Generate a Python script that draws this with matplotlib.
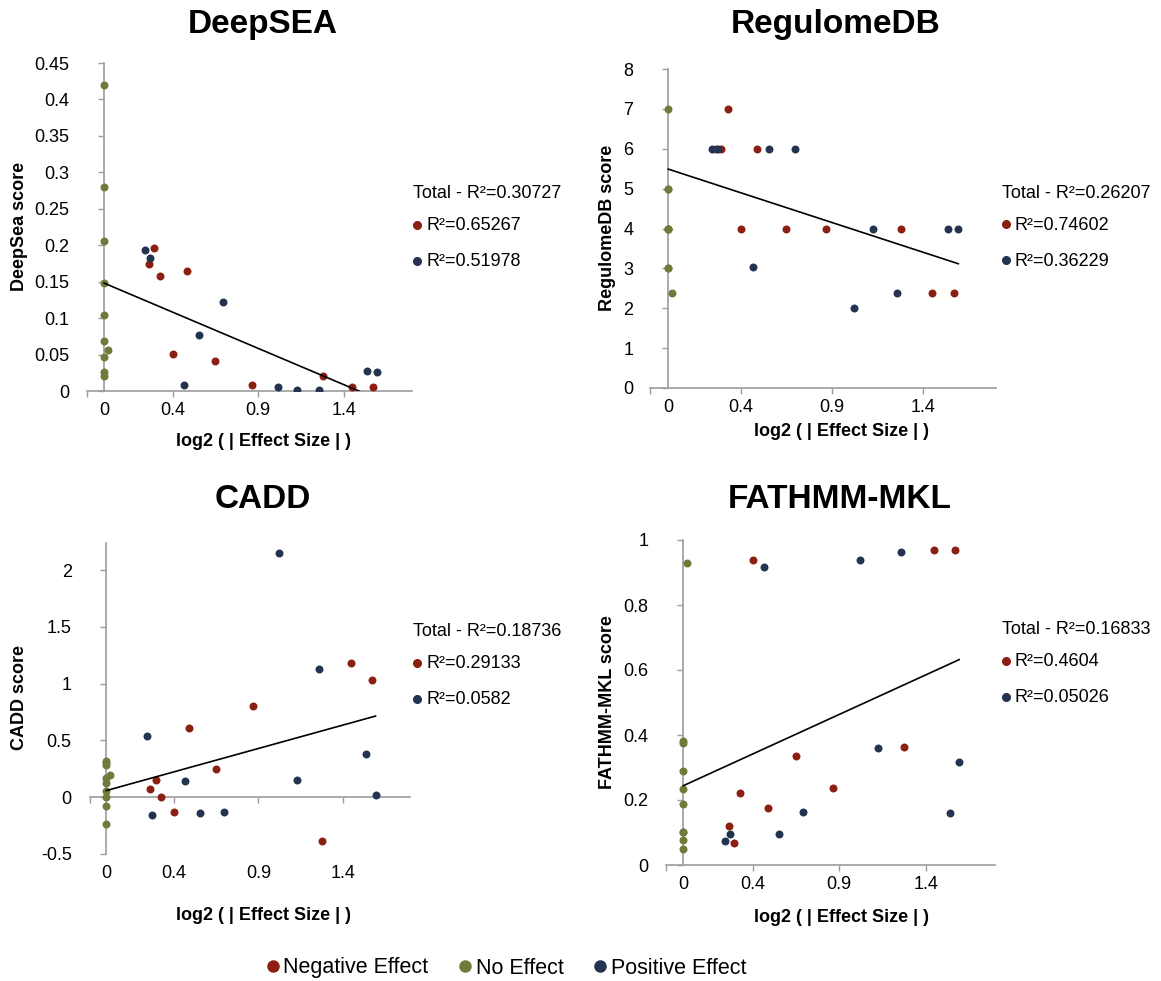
import numpy as np
import matplotlib
matplotlib.use("Agg")
import matplotlib.pyplot as plt
from matplotlib.lines import Line2D
from matplotlib.ticker import FuncFormatter

plt.rcParams['font.family'] = ['Liberation Sans', 'DejaVu Sans']

# colours of the three groups
c_neg = '#8b2012'
c_none = '#6d7c3b'
c_pos = '#243350'
grey = '#9c9c9c'

# log2(|effect size|) of each variant, same for all four scores
x_neg = [0.261, 0.292, 0.326, 0.40, 0.487, 0.649, 0.867, 1.277, 1.45, 1.571]
x_none = [0, 0, 0, 0, 0, 0, 0, 0, 0, 0.02]
x_pos = [0.238, 0.271, 0.466, 0.554, 0.694, 1.019, 1.127, 1.257, 1.538, 1.593]

# DeepSEA
deepsea_neg = [0.174, 0.196, 0.158, 0.051, 0.165, 0.041, 0.008, 0.021, 0.005, 0.005]
deepsea_none = [0.42, 0.28, 0.206, 0.148, 0.104, 0.068, 0.046, 0.026, 0.021, 0.056]
deepsea_pos = [0.194, 0.183, 0.008, 0.077, 0.122, 0.005, 0.002, 0.002, 0.028, 0.026]

# RegulomeDB
regulome_neg = [6, 6, 7, 4, 6, 4, 4, 4, 2.37, 2.37]
regulome_none = [7, 5, 4, 4, 3, 4, 5, 3, 4, 2.37]
regulome_pos = [6, 6, 3.03, 6, 6, 2.0, 4, 2.37, 4, 4]

# CADD
cadd_neg = [0.07, 0.152, 0.006, -0.126, 0.607, 0.25, 0.80, -0.387, 1.18, 1.03]
cadd_none = [0.32, 0.30, 0.284, 0.173, 0.123, 0.056, 0.006, -0.076, -0.24, 0.20]
cadd_pos = [0.54, -0.16, 0.14, -0.14, -0.126, 2.155, 0.152, 1.13, 0.378, 0.02]

# FATHMM-MKL
fathmm_neg = [0.119, 0.068, 0.222, 0.94, 0.176, 0.335, 0.238, 0.364, 0.968, 0.968]
fathmm_none = [0.382, 0.374, 0.29, 0.233, 0.187, 0.102, 0.078, 0.049, 0.102, 0.93]
fathmm_pos = [0.073, 0.095, 0.918, 0.096, 0.164, 0.94, 0.359, 0.963, 0.159, 0.318]

titles = ['DeepSEA', 'RegulomeDB', 'CADD', 'FATHMM-MKL']
ylabels = ['DeepSea score', 'RegulomeDB score', 'CADD score', 'FATHMM-MKL score']

# total linear trend lines
trend_intercept = [0.148, 5.49, 0.059, 0.244]
trend_slope = [-0.0994, -1.49, 0.412, 0.2435]

r2_total = ['0.30727', '0.26207', '0.18736', '0.16833']
r2_neg = ['0.65267', '0.74602', '0.29133', '0.4604']
r2_pos = ['0.51978', '0.36229', '0.0582', '0.05026']

yticks = [[0, 0.05, 0.1, 0.15, 0.2, 0.25, 0.3, 0.35, 0.4, 0.45],
          [0, 1, 2, 3, 4, 5, 6, 7, 8],
          [-0.5, 0, 0.5, 1, 1.5, 2],
          [0, 0.2, 0.4, 0.6, 0.8, 1]]
ylims = [(0, 0.45), (0, 8), (-0.5, 2.24), (0, 1)]
xtick_marks = [-0.1, 0.4, 0.9, 1.4]
xtick_labels = [0, 0.4, 0.9, 1.4]

data = [(deepsea_neg, deepsea_none, deepsea_pos),
        (regulome_neg, regulome_none, regulome_pos),
        (cadd_neg, cadd_none, cadd_pos),
        (fathmm_neg, fathmm_none, fathmm_pos)]

W, H = 1161, 981
fig = plt.figure(figsize=(W / 100, H / 100), dpi=100)

# axes boxes in pixels: left, top, width, height
boxes = [(87, 63, 325, 328), (650, 69, 346, 319), (89.5, 543, 321, 311), (666, 540, 329, 325)]
title_pos = [(263, 24), (836, 24), (263, 499), (840, 499)]
ylab_pos = [(20, 226), (607, 228), (20, 698), (607, 702)]
xlab_pos = [(263, 442), (842, 431), (263, 915), (842, 917)]
r2_pos_px = [(413, 194), (1002, 193), (413, 632), (1002, 630)]


def fx(px):
    return px / W


def fy(py):
    return 1 - py / H


for i in range(4):
    l, t, w, h = boxes[i]
    ax = fig.add_axes([fx(l), fy(t + h), w / W, h / H])
    neg, none, pos = data[i]
    ax.scatter(x_neg, neg, s=33, color=c_neg, zorder=3, linewidths=0)
    ax.scatter(x_none, none, s=33, color=c_none, zorder=3, linewidths=0)
    ax.scatter(x_pos, pos, s=33, color=c_pos, zorder=3, linewidths=0)

    allx = np.array(x_neg + x_none + x_pos)
    tx = np.array([allx.min(), allx.max()])
    ax.plot(tx, trend_intercept[i] + trend_slope[i] * tx, color='black', lw=1.2, zorder=4)

    ax.set_xlim(-0.1, 1.8)
    ax.set_ylim(*ylims[i])
    for s in ['top', 'right']:
        ax.spines[s].set_visible(False)
    ax.spines['left'].set_position(('data', 0))
    ax.spines['bottom'].set_position(('data', 0))
    for s in ['left', 'bottom']:
        ax.spines[s].set_color(grey)
        ax.spines[s].set_linewidth(1.2)

    ax.set_xticks(xtick_marks)
    ax.tick_params(axis='x', labelbottom=False, length=4, width=1, color=grey)
    ax.set_yticks(yticks[i])
    ax.yaxis.set_major_formatter(FuncFormatter(lambda v, p: '{:g}'.format(v)))
    ax.tick_params(axis='y', length=4, width=1, color=grey, labelsize=13, pad=21)

    sec = ax.secondary_xaxis(0.0)
    sec.set_xticks(xtick_labels, labels=['{:g}'.format(v) for v in xtick_labels])
    sec.tick_params(length=0, labelsize=13, pad=8)
    sec.spines['bottom'].set_visible(False)

    fig.text(fx(title_pos[i][0]), fy(title_pos[i][1]), titles[i], ha='center', va='center',
             fontsize=24, fontweight='bold')
    fig.text(fx(ylab_pos[i][0]), fy(ylab_pos[i][1]), ylabels[i], ha='center', va='center',
             rotation=90, fontsize=13, fontweight='bold')
    fig.text(fx(xlab_pos[i][0]), fy(xlab_pos[i][1]), 'log2 ( | Effect Size | )', ha='center',
             va='center', fontsize=13, fontweight='bold')

    # R² notes beside each panel
    rx, ry = r2_pos_px[i]
    fig.text(fx(rx), fy(ry), 'Total - R²=' + r2_total[i], ha='left', va='center', fontsize=13)
    for k, (col, val) in enumerate([(c_neg, r2_neg[i]), (c_pos, r2_pos[i])]):
        yy = ry + 31 + k * 36
        fig.add_artist(Line2D([fx(rx + 4)], [fy(yy)], marker='o', markersize=5.5, color=col,
                              transform=fig.transFigure, linestyle='none'))
        fig.text(fx(rx + 13), fy(yy + 1), 'R²=' + val, ha='left', va='center', fontsize=13)

handles = [Line2D([], [], marker='o', linestyle='none', markersize=8, color=c)
           for c in [c_neg, c_none, c_pos]]
fig.legend(handles, ['Negative Effect', 'No Effect', 'Positive Effect'], loc='center',
           bbox_to_anchor=(fx(507), fy(968)), ncol=3, frameon=False, fontsize=15.5,
           handlelength=0.5, handletextpad=0.25, columnspacing=1.45)

fig.savefig('out.png', dpi=100)
